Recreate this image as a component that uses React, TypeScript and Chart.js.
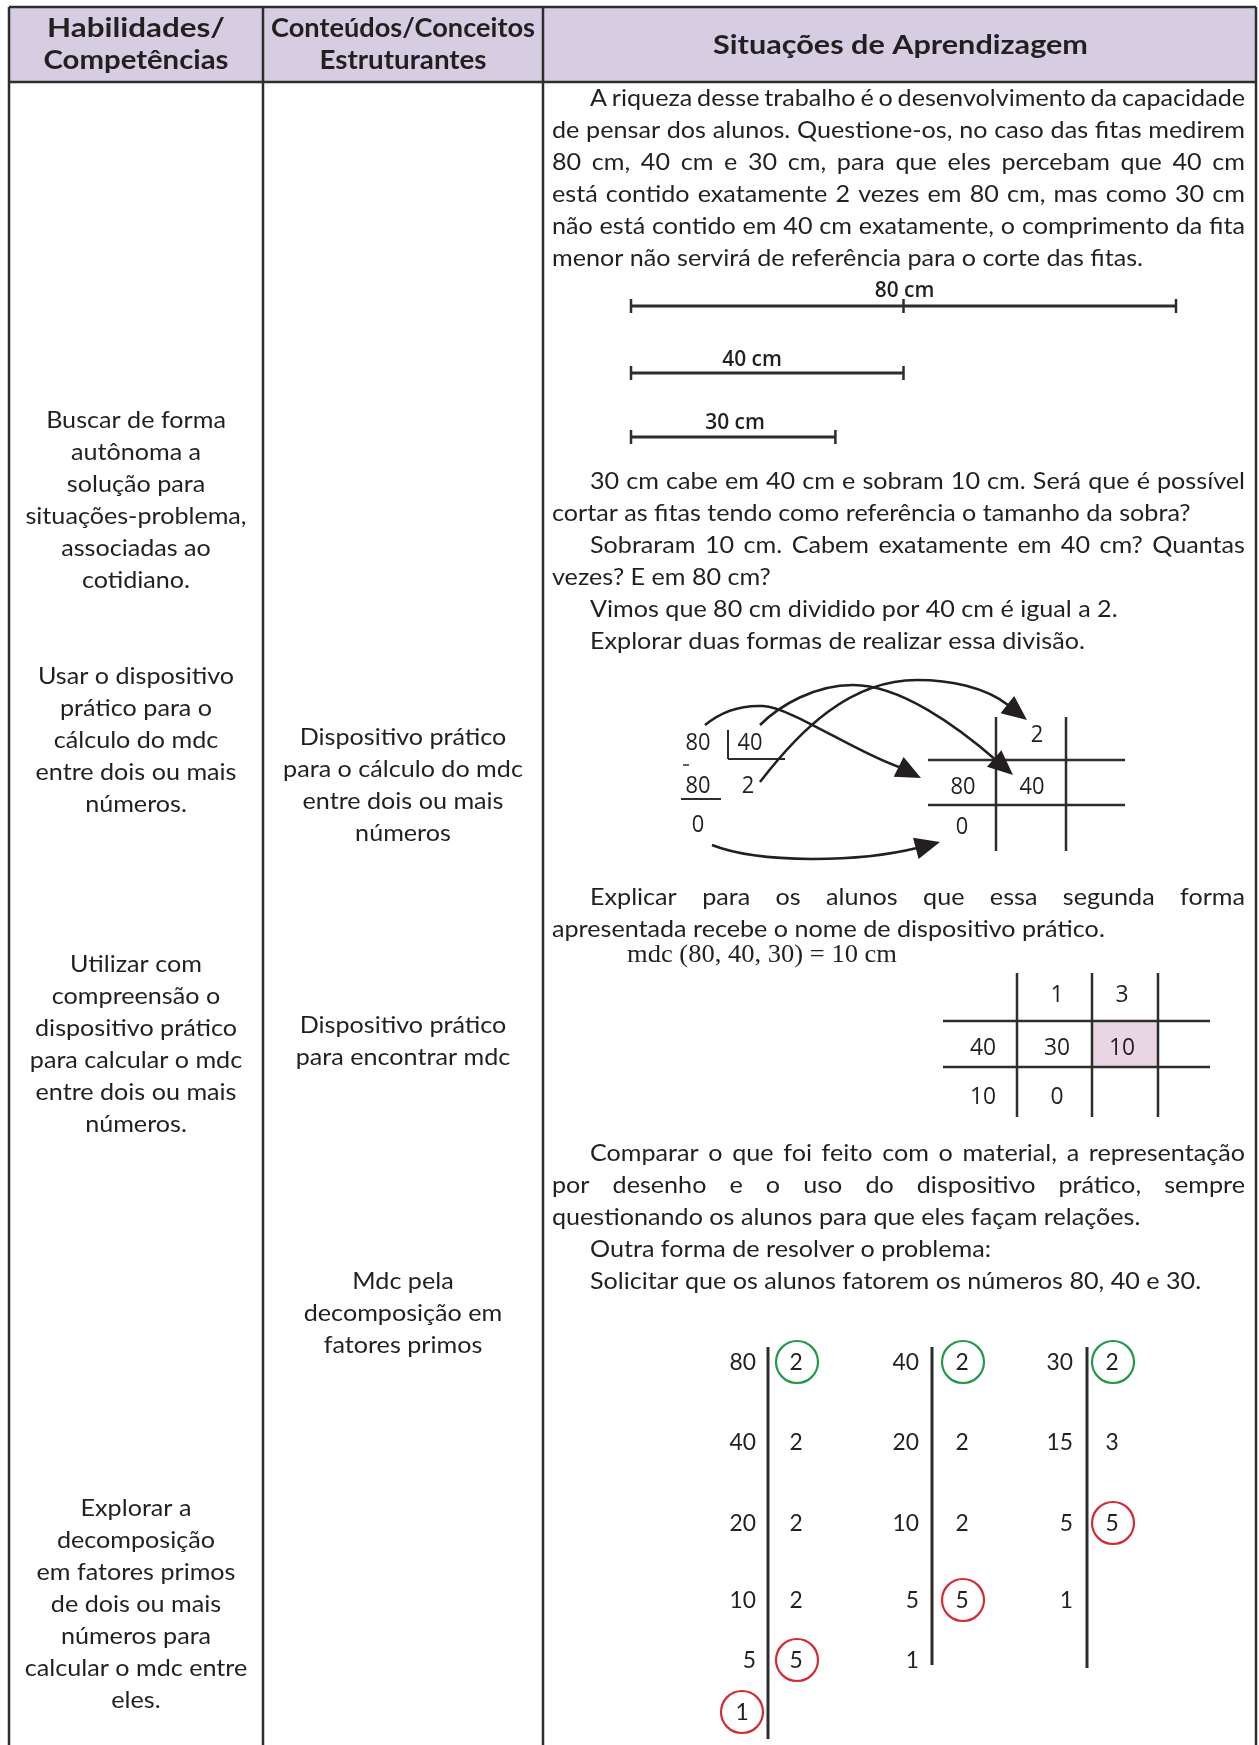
import React, { useEffect, useRef } from "react";
import { Chart, registerables } from "chart.js";

Chart.register(...registerables);

// ---------------- data ----------------
const headerSkills = ["Habilidades/", "Competências"];
const headerContents = ["Conteúdos/Conceitos", "Estruturantes"];
const headerSituations = ["Situações de Aprendizagem"];

const skillBlock1 = ["Buscar de forma", "autônoma a", "solução para", "situações-problema,", "associadas ao", "cotidiano."];
const skillBlock2 = ["Usar o dispositivo", "prático para o", "cálculo do mdc", "entre dois ou mais", "números."];
const skillBlock3 = ["Utilizar com", "compreensão o", "dispositivo prático", "para calcular o mdc", "entre dois ou mais", "números."];
const skillBlock4 = ["Explorar a", "decomposição", "em fatores primos", "de dois ou mais", "números para", "calcular o mdc entre", "eles."];

const contentBlock1 = ["Dispositivo prático", "para o cálculo do mdc", "entre dois ou mais", "números"];
const contentBlock2 = ["Dispositivo prático", "para encontrar mdc"];
const contentBlock3 = ["Mdc pela", "decomposição em", "fatores primos"];

const sectionA = [[
  "A riqueza desse trabalho é o desenvolvimento da capacidade",
  "de pensar dos alunos. Questione-os, no caso das fitas medirem",
  "80 cm, 40 cm e 30 cm, para que eles percebam que 40 cm",
  "está contido exatamente 2 vezes em 80 cm, mas como 30 cm",
  "não está contido em 40 cm exatamente, o comprimento da fita",
  "menor não servirá de referência para o corte das fitas.",
]];
const sectionB = [
  ["30 cm cabe em 40 cm e sobram 10 cm. Será que é possível", "cortar as fitas tendo como referência o tamanho da sobra?"],
  ["Sobraram 10 cm. Cabem exatamente em 40 cm? Quantas", "vezes? E em 80 cm?"],
  ["Vimos que 80 cm dividido por 40 cm é igual a 2."],
  ["Explorar duas formas de realizar essa divisão."],
];
const sectionC = [["Explicar para os alunos que essa segunda forma", "apresentada recebe o nome de dispositivo prático."]];
const mdcFormula = "mdc (80, 40, 30) = 10 cm";
const sectionD = [
  ["Comparar o que foi feito com o material, a representação", "por desenho e o uso do dispositivo prático, sempre", "questionando os alunos para que eles façam relações."],
  ["Outra forma de resolver o problema:"],
  ["Solicitar que os alunos fatorem os números 80, 40 e 30."],
];

// tapes (cm)
const tapeLengths = [80, 40, 30];
const tapeLabels = ["80 cm", "40 cm", "30 cm"];

// long division 80 : 40
const divDividend = 80;
const divDivisor = 40;
const divQuotient = 2;
const divRemainder = 0;

// mdc practical device for 40 and 30
const mdcQuotients = ["", "1", "3"];
const mdcRow = ["40", "30", "10"];
const mdcRemainders = ["10", "0", ""];

// prime factorisations
const factorNumbers = [[80, 40, 20, 10, 5, 1], [40, 20, 10, 5, 1], [30, 15, 5, 1]];
const factorDivisors = [[2, 2, 2, 2, 5], [2, 2, 2, 5], [2, 3, 5]];
const greenDivisorIdx = [[0], [0], [0]];
const redDivisorIdx = [[4], [3], [2]];
const redNumberIdx = [[5], [], []];

// ---------------- layout ----------------
const W = 1259;
const H = 1745;
const INK = "#231f20";
const BORDER = "#2e2c2d";
const HEADER_FILL = "#d6cde2";
const PINK = "#e9d6e4";
const GREEN = "#22984a";
const RED = "#d42a32";

const colX = [9, 263, 543, 1256];
const tableTop = 7;
const headerBottom = 82;
const LINE = 32;
const textLeft = 552;
const textIndent = 590;
const textRight = 1245;

const BODY = "24px Lato";
const HEAD = "bold 26px Lato";
const headerSkillsW = [178, 185];
const headerContentsW = [264, 167];
const headerSituationsW = [375];

const factorColNumRight = [756, 919, 1073];
const factorColLine = [768, 932, 1087];
const factorColDiv = [796, 962, 1112];
const factorRowY = [1362, 1442, 1523, 1600, 1660, 1712];
const factorLineEnd = [1739, 1665, 1668];

type Seg = [number, number, number, number, number];

function buildSegments(): Seg[] {
  const s: Seg[] = [];
  // table
  s.push([colX[0], tableTop, colX[3], tableTop, 2.5]);
  s.push([colX[0], headerBottom, colX[3], headerBottom, 2.5]);
  colX.forEach((x) => s.push([x, tableTop, x, H, 2.5]));
  // tapes
  const tx0 = 631;
  const pxPerCm = (1176 - tx0) / tapeLengths[0];
  const tapeY = [306, 373, 437];
  tapeLengths.forEach((len, i) => {
    const x1 = tx0 + len * pxPerCm;
    s.push([tx0, tapeY[i], x1, tapeY[i], 3]);
    s.push([tx0, tapeY[i] - 7, tx0, tapeY[i] + 7, 2.5]);
    s.push([x1, tapeY[i] - 7, x1, tapeY[i] + 7, 2.5]);
    if (i === 0) {
      const xm = tx0 + (len / 2) * pxPerCm;
      s.push([xm, tapeY[i] - 7, xm, tapeY[i] + 7, 2.5]);
    }
  });
  // long division
  s.push([728, 730, 728, 759, 2]);
  s.push([728, 759, 785, 759, 2]);
  s.push([681, 799, 721, 799, 2]);
  s.push([683, 765, 689, 765, 1.5]);
  // practical device (80, 40)
  s.push([928, 760, 1125, 760, 2.5]);
  s.push([928, 805, 1125, 805, 2.5]);
  s.push([996, 717, 996, 851, 2.5]);
  s.push([1066, 717, 1066, 851, 2.5]);
  // mdc table
  s.push([943, 1021, 1210, 1021, 2.5]);
  s.push([943, 1067, 1210, 1067, 2.5]);
  [1017, 1092, 1158].forEach((x) => s.push([x, 973, x, 1117, 2.5]));
  // factorisation bars
  factorColLine.forEach((x, i) => s.push([x, 1347, x, factorLineEnd[i], 3]));
  return s;
}

function buildCircles() {
  const green: { x: number; y: number }[] = [];
  const red: { x: number; y: number }[] = [];
  factorDivisors.forEach((_, c) => {
    greenDivisorIdx[c].forEach((r) => green.push({ x: factorColDiv[c] + 1, y: factorRowY[r] }));
    redDivisorIdx[c].forEach((r) => red.push({ x: factorColDiv[c] + 1, y: factorRowY[r] }));
    redNumberIdx[c].forEach((r) => red.push({ x: factorColNumRight[c] - 14, y: factorRowY[r] }));
  });
  return { green, red };
}

const pagePlugin = {
  id: "pagePlugin",
  beforeDatasetsDraw(chart: any) {
    const ctx: CanvasRenderingContext2D = chart.ctx;
    const X = (v: number) => chart.scales.x.getPixelForValue(v);
    const Y = (v: number) => chart.scales.y.getPixelForValue(v);
    ctx.save();
    ctx.fillStyle = HEADER_FILL;
    ctx.fillRect(X(colX[0]), Y(tableTop), X(colX[3]) - X(colX[0]), Y(headerBottom) - Y(tableTop));
    ctx.fillStyle = PINK;
    ctx.fillRect(X(1092), Y(1021), X(1158) - X(1092), Y(1067) - Y(1021));
    ctx.restore();
  },
  afterDatasetsDraw(chart: any) {
    const ctx: CanvasRenderingContext2D = chart.ctx;
    const X = (v: number) => chart.scales.x.getPixelForValue(v);
    const Y = (v: number) => chart.scales.y.getPixelForValue(v);

    const measure = (t: string, font: string) => {
      ctx.font = font;
      return ctx.measureText(t).width;
    };
    const hsBody = 591 / measure("menor não servirá de referência para o corte das fitas.", BODY);

    const text = (t: string, x: number, y: number, font: string, hs: number, align: "left" | "center" | "right", color = INK) => {
      ctx.save();
      ctx.font = font;
      ctx.fillStyle = color;
      ctx.textBaseline = "middle";
      ctx.textAlign = "left";
      const w = ctx.measureText(t).width * hs;
      let left = X(x);
      if (align === "center") left -= w / 2;
      if (align === "right") left -= w;
      ctx.translate(left, Y(y));
      ctx.scale(hs, 1);
      ctx.fillText(t, 0, 0);
      ctx.restore();
    };
    const fitText = (t: string, cx: number, y: number, font: string, width: number) => {
      text(t, cx, y, font, width / measure(t, font), "center");
    };

    const justified = (t: string, x0: number, x1: number, y: number) => {
      const words = t.split(" ");
      let hs = hsBody;
      const raw = words.map((w) => measure(w, BODY));
      const rawTotal = raw.reduce((a, b) => a + b, 0);
      const space = measure(" ", BODY);
      const avail = X(x1) - X(x0);
      const minGap = space * 0.75;
      if (rawTotal * hs + minGap * hs * (words.length - 1) > avail) {
        hs = avail / (rawTotal + minGap * (words.length - 1));
      }
      const ws = raw.map((w) => w * hs);
      const total = ws.reduce((a, b) => a + b, 0);
      const gap = (avail - total) / (words.length - 1);
      let px = X(x0);
      words.forEach((w, i) => {
        ctx.save();
        ctx.font = BODY;
        ctx.fillStyle = INK;
        ctx.textBaseline = "middle";
        ctx.textAlign = "left";
        ctx.translate(px, Y(y));
        ctx.scale(hs, 1);
        ctx.fillText(w, 0, 0);
        ctx.restore();
        px += ws[i] + gap;
      });
    };

    const section = (paras: string[][], y0: number) => {
      let y = y0;
      paras.forEach((p) => {
        p.forEach((line, i) => {
          const x0 = i === 0 ? textIndent : textLeft;
          const last = i === p.length - 1;
          if (last) text(line, x0, y, BODY, hsBody, "left");
          else justified(line, x0, textRight, y);
          y += LINE;
        });
      });
    };

    const block = (lines: string[], cx: number, y0: number) => {
      lines.forEach((l, i) => text(l, cx, y0 + i * LINE, BODY, hsBody, "center"));
    };

    // header
    const c1 = (colX[0] + colX[1]) / 2;
    const c2 = (colX[1] + colX[2]) / 2;
    const c3 = (colX[2] + colX[3]) / 2;
    headerSkills.forEach((t, i) => fitText(t, c1, 29 + i * 32, HEAD, headerSkillsW[i]));
    headerContents.forEach((t, i) => fitText(t, c2, 29 + i * 32, HEAD, headerContentsW[i]));
    headerSituations.forEach((t, i) => fitText(t, c3 + 1, 46, HEAD, headerSituationsW[i]));

    // left & middle columns
    block(skillBlock1, c1, 420);
    block(skillBlock2, c1, 676);
    block(skillBlock3, c1, 964);
    block(skillBlock4, c1, 1508);
    block(contentBlock1, c2, 737);
    block(contentBlock2, c2, 1025);
    block(contentBlock3, c2, 1281);

    // right column paragraphs
    section(sectionA, 98);
    section(sectionB, 481);
    section(sectionC, 897);
    section(sectionD, 1153);

    // mdc formula (serif)
    const SERIF = "25px 'Liberation Serif'";
    const hsSerif = 270 / measure(mdcFormula, SERIF);
    text(mdcFormula, 627, 955, SERIF, hsSerif, "left");

    // tape labels
    const LBL = "600 22px 'Open Sans'";
    const tx0 = 631;
    const pxPerCm = (1176 - tx0) / tapeLengths[0];
    const labelY = [291, 360, 423];
    const labelX = [tx0 + (tapeLengths[0] / 2) * pxPerCm + 1, 752, 735];
    tapeLabels.forEach((l, i) => text(l, labelX[i], labelY[i], LBL, 0.95, "center"));

    // long division numbers
    const DIG = "23px 'Open Sans'";
    text(String(divDividend), 698, 743, DIG, 0.95, "center");
    text(String(divDivisor), 750, 743, DIG, 0.95, "center");
    text(String(divDividend), 698, 786, DIG, 0.95, "center");
    text(String(divQuotient), 748, 786, DIG, 0.95, "center");
    text(String(divRemainder), 698, 825, DIG, 0.95, "center");
    // practical device numbers
    text(String(divQuotient), 1037, 735, DIG, 0.95, "center");
    text(String(divDividend), 963, 787, DIG, 0.95, "center");
    text(String(divDivisor), 1032, 787, DIG, 0.95, "center");
    text(String(divRemainder), 962, 827, DIG, 0.95, "center");

    // mdc table numbers
    const DIG2 = "24px 'Open Sans'";
    const mdcColX = [983, 1057, 1122];
    mdcQuotients.forEach((t, i) => t && text(t, mdcColX[i], 995, DIG2, 0.95, "center"));
    mdcRow.forEach((t, i) => t && text(t, mdcColX[i], 1048, DIG2, 0.95, "center"));
    mdcRemainders.forEach((t, i) => t && text(t, mdcColX[i], 1097, DIG2, 0.95, "center"));

    // factorisation numbers
    const FN = "24px Lato";
    factorNumbers.forEach((col, c) => {
      col.forEach((n, r) => {
        const isCircled = redNumberIdx[c].includes(r);
        if (isCircled) text(String(n), factorColNumRight[c] - 14, factorRowY[r], FN, 0.95, "center");
        else text(String(n), factorColNumRight[c], factorRowY[r], FN, 0.95, "right");
      });
    });
    factorDivisors.forEach((col, c) => {
      col.forEach((d, r) => text(String(d), factorColDiv[c], factorRowY[r], FN, 0.95, "center"));
    });

    // arrows (curves)
    type Cub = [number, number, number, number, number, number];
    const arrows: { start: [number, number]; segs: Cub[]; tip: [number, number] }[] = [
      { start: [705, 725], segs: [[722, 711, 742, 705, 763, 706], [790, 707, 855, 752, 899, 767]], tip: [921, 778] },
      { start: [760, 725], segs: [[780, 705, 815, 685, 853, 685], [900, 685, 957, 726, 997, 761]], tip: [1013, 775] },
      { start: [760, 782], segs: [[800, 730, 850, 680, 917, 680], [950, 680, 985, 687, 1008, 705]], tip: [1027, 720] },
      { start: [712, 845], segs: [[760, 864, 860, 862, 917, 848]], tip: [940, 842] },
    ];
    ctx.save();
    ctx.strokeStyle = INK;
    ctx.fillStyle = INK;
    ctx.lineWidth = 2.5;
    arrows.forEach((a) => {
      ctx.beginPath();
      ctx.moveTo(X(a.start[0]), Y(a.start[1]));
      a.segs.forEach((s) => ctx.bezierCurveTo(X(s[0]), Y(s[1]), X(s[2]), Y(s[3]), X(s[4]), Y(s[5])));
      ctx.stroke();
      const last = a.segs[a.segs.length - 1];
      const bx = X(last[4]);
      const by = Y(last[5]);
      const tx = X(a.tip[0]);
      const ty = Y(a.tip[1]);
      const dx = tx - bx;
      const dy = ty - by;
      const len = Math.hypot(dx, dy);
      const ux = dx / len;
      const uy = dy / len;
      const headLen = 25;
      const half = 11;
      const baseX = tx - ux * headLen;
      const baseY = ty - uy * headLen;
      ctx.beginPath();
      ctx.moveTo(tx, ty);
      ctx.lineTo(baseX - uy * half, baseY + ux * half);
      ctx.lineTo(baseX + uy * half, baseY - ux * half);
      ctx.closePath();
      ctx.fill();
    });
    ctx.restore();
  },
};

export default function App() {
  const ref = useRef<HTMLCanvasElement>(null);

  useEffect(() => {
    if (!ref.current) return;
    const segs = buildSegments();
    const circles = buildCircles();
    const datasets: any[] = segs.map((s) => ({
      type: "scatter",
      data: [
        { x: s[0], y: s[1] },
        { x: s[2], y: s[3] },
      ],
      showLine: true,
      borderColor: BORDER,
      borderWidth: s[4],
      pointRadius: 0,
      pointHoverRadius: 0,
      fill: false,
      clip: false,
    }));
    datasets.push({
      type: "scatter",
      data: circles.green,
      showLine: false,
      pointRadius: 21,
      pointBorderWidth: 2.2,
      pointBorderColor: GREEN,
      pointBackgroundColor: "rgba(0,0,0,0)",
      clip: false,
    });
    datasets.push({
      type: "scatter",
      data: circles.red,
      showLine: false,
      pointRadius: 21,
      pointBorderWidth: 2.2,
      pointBorderColor: RED,
      pointBackgroundColor: "rgba(0,0,0,0)",
      clip: false,
    });

    const chart = new Chart(ref.current, {
      type: "scatter",
      data: { datasets },
      options: {
        responsive: false,
        maintainAspectRatio: false,
        animation: false,
        events: [],
        devicePixelRatio: 1,
        layout: { padding: 0, autoPadding: false },
        scales: {
          x: { type: "linear", min: 0, max: W, display: false },
          y: { type: "linear", min: 0, max: H, reverse: true, display: false },
        },
        plugins: {
          legend: { display: false },
          tooltip: { enabled: false },
          title: { display: false },
        },
      },
      plugins: [pagePlugin],
    } as any);
    return () => chart.destroy();
  }, []);

  return (
    <div style={{ position: "absolute", left: 0, top: 0, width: W, height: H, background: "#fff", overflow: "hidden" }}>
      <canvas ref={ref} width={W} height={H} style={{ display: "block", width: W, height: H }} />
    </div>
  );
}
